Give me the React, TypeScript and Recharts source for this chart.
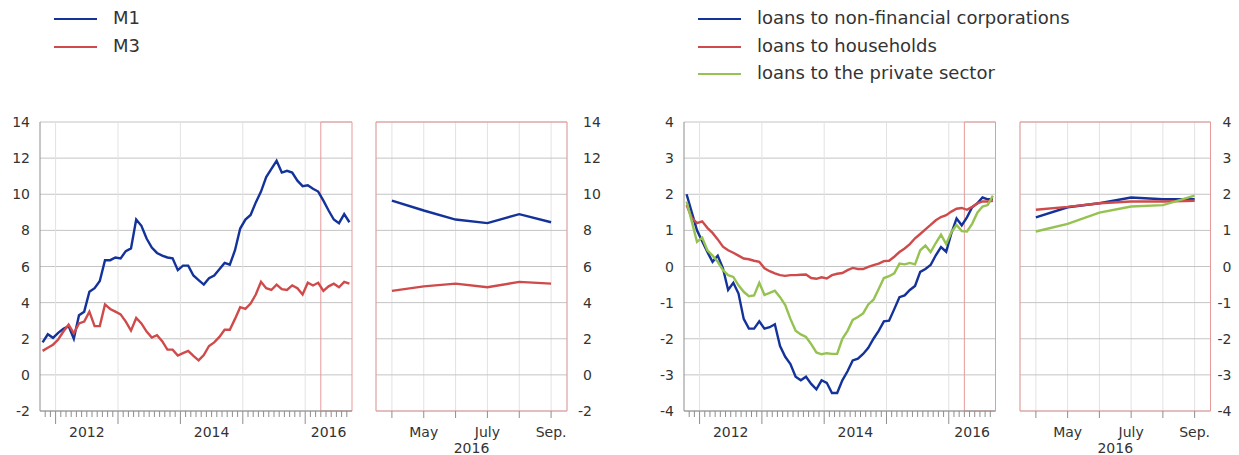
import { LineChart, Line, XAxis, YAxis, CartesianGrid, ReferenceArea, ReferenceLine } from 'recharts'

// Monthly annual growth rates (%), October 2011 to September 2016
const START_YEAR = 2011
const START_MONTH = 9 // October, 0-based

const m1 = [
  1.8, 2.25, 2.05, 2.33, 2.55, 2.7, 2.0, 3.3, 3.5, 4.6, 4.8, 5.2,
  6.35, 6.35, 6.5, 6.45, 6.85, 7.0, 8.6, 8.25, 7.55, 7.05, 6.75, 6.6,
  6.5, 6.45, 5.8, 6.05, 6.05, 5.5, 5.25, 5.0, 5.35, 5.5, 5.85, 6.2,
  6.1, 6.9, 8.1, 8.6, 8.85, 9.55, 10.15, 10.95, 11.4, 11.85, 11.2, 11.3,
  11.2, 10.75, 10.45, 10.5, 10.3, 10.15, 9.65, 9.1, 8.6, 8.4, 8.9, 8.45,
]
const m3 = [
  1.33, 1.5, 1.67, 1.96, 2.4, 2.78, 2.3, 2.85, 2.95, 3.5, 2.7, 2.7,
  3.9, 3.65, 3.5, 3.35, 2.95, 2.45, 3.15, 2.85, 2.4, 2.07, 2.2, 1.87,
  1.4, 1.4, 1.07, 1.2, 1.33, 1.05, 0.8, 1.1, 1.6, 1.8, 2.1, 2.5,
  2.5, 3.1, 3.75, 3.65, 3.95, 4.45, 5.15, 4.8, 4.7, 5.0, 4.75, 4.7,
  4.95, 4.8, 4.45, 5.1, 4.95, 5.1, 4.65, 4.9, 5.05, 4.85, 5.15, 5.05,
]
const loansNfc = [
  2.0, 1.5, 1.0, 0.7, 0.4, 0.13, 0.3, -0.05, -0.65, -0.45, -0.75, -1.45,
  -1.72, -1.72, -1.52, -1.72, -1.68, -1.6, -2.2, -2.5, -2.7, -3.05, -3.15, -3.05,
  -3.25, -3.4, -3.15, -3.22, -3.5, -3.5, -3.15, -2.9, -2.6, -2.55, -2.42, -2.25,
  -2.0, -1.78, -1.52, -1.5, -1.18, -0.85, -0.8, -0.65, -0.54, -0.15, -0.07, 0.04,
  0.31, 0.54, 0.41, 0.92, 1.33, 1.14, 1.36, 1.64, 1.75, 1.91, 1.86, 1.86,
]
const loansHouseholds = [
  1.7, 1.35, 1.2, 1.25, 1.07, 0.93, 0.75, 0.55, 0.45, 0.38, 0.3, 0.22,
  0.2, 0.16, 0.13, -0.05, -0.13, -0.19, -0.24, -0.26, -0.24, -0.24, -0.23, -0.22,
  -0.32, -0.34, -0.3, -0.33, -0.24, -0.2, -0.18, -0.1, -0.04, -0.07, -0.07, -0.01,
  0.04, 0.08, 0.15, 0.16, 0.27, 0.4, 0.5, 0.62, 0.78, 0.9, 1.03, 1.15,
  1.28, 1.37, 1.42, 1.52, 1.6, 1.62, 1.57, 1.65, 1.75, 1.8, 1.8, 1.82,
]
const loansPrivate = [
  1.8, 1.25, 0.68, 0.8, 0.45, 0.3, 0.13, -0.1, -0.24, -0.29, -0.52, -0.7,
  -0.82, -0.8, -0.45, -0.79, -0.73, -0.67, -0.85, -1.07, -1.45, -1.78, -1.88, -1.95,
  -2.15, -2.38, -2.43, -2.4, -2.42, -2.42, -2.0, -1.78, -1.48, -1.4, -1.3, -1.05,
  -0.92, -0.62, -0.32, -0.27, -0.19, 0.08, 0.06, 0.1, 0.06, 0.45, 0.58, 0.4,
  0.65, 0.88, 0.62, 0.95, 1.15, 0.98, 0.97, 1.18, 1.49, 1.66, 1.7, 1.96,
]

const yearLabels = [2012, 2014, 2016]
const insetTickLabels = ['', 'May', '', 'July', '', 'Sep.']
const insetYear = '2016'
const moneyTicks = [-2, 0, 2, 4, 6, 8, 10, 12, 14]
const loanTicks = [-4, -3, -2, -1, 0, 1, 2, 3, 4]

const BLUE = '#13329a'
const RED = '#cf4b4b'
const GREEN = '#95c251'
const GRID_H = '#c4c4c4'
const GRID_V = '#e2e2e2'
const AXIS = '#8e8e8e'
const BOX = '#e79a9a'
const TEXT = '#333'
const FONT = '"DejaVu Sans", Verdana, sans-serif'

const moneySeries = [
  { key: 'm1', name: 'M1', color: BLUE, values: m1 },
  { key: 'm3', name: 'M3', color: RED, values: m3 },
]
const loanSeries = [
  { key: 'nfc', name: 'loans to non-financial corporations', color: BLUE, values: loansNfc },
  { key: 'hh', name: 'loans to households', color: RED, values: loansHouseholds },
  { key: 'ps', name: 'loans to the private sector', color: GREEN, values: loansPrivate },
]

const N = m1.length
const INSET = insetTickLabels.length

// month boundaries sit half a step between observations
const boundaries = Array.from({ length: N - 1 }, (_, k) => k + 0.5)
const janBoundaries = boundaries.filter(b => (START_MONTH + b + 0.5) % 12 === 0)
const yearLabelAt = new Map<number, string>()
yearLabels.forEach(y => {
  const start = (y - START_YEAR) * 12 - START_MONTH - 0.5
  const a = Math.max(start, -0.5)
  const b = Math.min(start + 12, N - 0.5)
  yearLabelAt.set((a + b) / 2, String(y))
})
const mainTicks = Array.from(new Set([...boundaries, ...yearLabelAt.keys()])).sort((a, b) => a - b)

const buildMain = (series: typeof moneySeries) =>
  Array.from({ length: N }, (_, i) => {
    const row: Record<string, number> = { i }
    series.forEach(s => { row[s.key] = s.values[i] })
    return row
  })

const buildInset = (series: typeof moneySeries) =>
  Array.from({ length: INSET }, (_, j) => {
    const row: Record<string, number> = { j }
    series.forEach(s => { row[s.key] = s.values[N - INSET + j] })
    return row
  })

const textStyle = { fontSize: 14, fill: TEXT, fontFamily: FONT }

const MainXTick = (props: any) => {
  const { x, y, payload } = props
  const v = payload.value
  const isBoundary = Number.isInteger(v - 0.5)
  const isJan = janBoundaries.includes(v)
  const label = yearLabelAt.get(v)
  return (
    <g>
      {isBoundary && <line x1={x} x2={x} y1={y} y2={y + (isJan ? 13 : 6)} stroke={AXIS} />}
      {label && (
        <text x={x} y={y + 26} textAnchor="middle" {...textStyle}>{label}</text>
      )}
    </g>
  )
}

const InsetXTick = (props: any) => {
  const { x, y, payload } = props
  const label = insetTickLabels[payload.value]
  return (
    <g>
      <line x1={x} x2={x} y1={y} y2={y + 7} stroke={AXIS} />
      {label && <text x={x} y={y + 26} textAnchor="middle" {...textStyle}>{label}</text>}
    </g>
  )
}

const LeftYTick = (props: any) => {
  const { x, y, payload } = props
  return <text x={x} y={y} dy={5} textAnchor="end" {...textStyle}>{payload.value}</text>
}

// labels on the right hang their minus sign to the left of the digits
const RightYTick = (props: any) => {
  const { x, y, payload } = props
  return (
    <text x={payload.value < 0 ? x - 5 : x} y={y} dy={5} textAnchor="start" {...textStyle}>
      {payload.value}
    </text>
  )
}

function MainPanel({ series, ticks, left, width, axisWidth, marginRight }: any) {
  const data = buildMain(series)
  const lo = ticks[0]
  const hi = ticks[ticks.length - 1]
  return (
    <div style={{ position: 'absolute', left, top: 0 }}>
      <LineChart width={width} height={455} data={data} margin={{ top: 122, right: marginRight, bottom: 0, left: 0 }}>
        <CartesianGrid vertical={false} stroke={GRID_H} />
        {janBoundaries.map(b => <ReferenceLine key={b} x={b} stroke={GRID_V} />)}
        <ReferenceArea x1={N - INSET - 0.5} x2={N - 0.5} y1={lo} y2={hi} fill="none" stroke={BOX} />
        <XAxis
          type="number" dataKey="i" domain={[-0.5, N - 0.5]} ticks={mainTicks} interval={0}
          tick={<MainXTick />} tickLine={false} tickSize={0} tickMargin={0} height={44} stroke={AXIS}
        />
        <YAxis
          type="number" domain={[lo, hi]} ticks={ticks} interval={0} tick={<LeftYTick />}
          tickLine={false} tickSize={6} tickMargin={4} width={axisWidth} stroke={AXIS}
        />
        {series.map((s: any) => (
          <Line key={s.key} dataKey={s.key} stroke={s.color} strokeWidth={2.4} dot={false} type="linear" isAnimationActive={false} />
        ))}
      </LineChart>
    </div>
  )
}

function InsetPanel({ series, ticks, left, width, marginLeft, axisWidth, labelGap }: any) {
  const data = buildInset(series)
  const lo = ticks[0]
  const hi = ticks[ticks.length - 1]
  return (
    <div style={{ position: 'absolute', left, top: 0 }}>
      <LineChart width={width} height={455} data={data} margin={{ top: 122, right: 0, bottom: 0, left: marginLeft }}>
        <CartesianGrid horizontal={false} stroke={GRID_V} />
        <CartesianGrid vertical={false} stroke={GRID_H} />
        <ReferenceArea x1={-0.5} x2={INSET - 0.5} y1={lo} y2={hi} fill="none" stroke={BOX} />
        <XAxis
          type="number" dataKey="j" domain={[-0.5, INSET - 0.5]} ticks={insetTickLabels.map((_, j) => j)} interval={0}
          tick={<InsetXTick />} tickLine={false} axisLine={false} tickSize={0} tickMargin={0} height={44}
          label={{ value: insetYear, position: 'insideBottom', offset: 2, ...textStyle }}
        />
        <YAxis
          orientation="right" type="number" domain={[lo, hi]} ticks={ticks} interval={0} tick={<RightYTick />}
          tickLine={false} axisLine={false} tickSize={0} tickMargin={labelGap} width={axisWidth}
        />
        {series.map((s: any) => (
          <Line key={s.key} dataKey={s.key} stroke={s.color} strokeWidth={2.4} dot={false} type="linear" isAnimationActive={false} />
        ))}
      </LineChart>
    </div>
  )
}

function Legend({ series, lineLeft, textLeft }: any) {
  return (
    <>
      {series.map((s: any, k: number) => (
        <div key={s.key}>
          <div style={{ position: 'absolute', left: lineLeft, top: 18 + k * 27.7, width: 43, height: 2, background: s.color }} />
          <div style={{ position: 'absolute', left: textLeft, top: 7 + k * 27.7, lineHeight: '22px', fontSize: 18, color: TEXT, whiteSpace: 'nowrap' }}>
            {s.name}
          </div>
        </div>
      ))}
    </>
  )
}

export default function App() {
  return (
    <div style={{ position: 'absolute', left: 0, top: 0, width: 1239, height: 455, background: '#fff', fontFamily: FONT, overflow: 'hidden' }}>
      <Legend series={moneySeries} lineLeft={54} textLeft={113} />
      <Legend series={loanSeries} lineLeft={698} textLeft={757} />
      <MainPanel series={moneySeries} ticks={moneyTicks} left={0} width={360} axisWidth={40} marginRight={8} />
      <InsetPanel series={moneySeries} ticks={moneyTicks} left={370} width={240} marginLeft={6} axisWidth={43} labelGap={16} />
      <MainPanel series={loanSeries} ticks={loanTicks} left={640} width={360} axisWidth={44} marginRight={4.5} />
      <InsetPanel series={loanSeries} ticks={loanTicks} left={1010} width={229} marginLeft={10} axisWidth={28.5} labelGap={12} />
    </div>
  )
}
